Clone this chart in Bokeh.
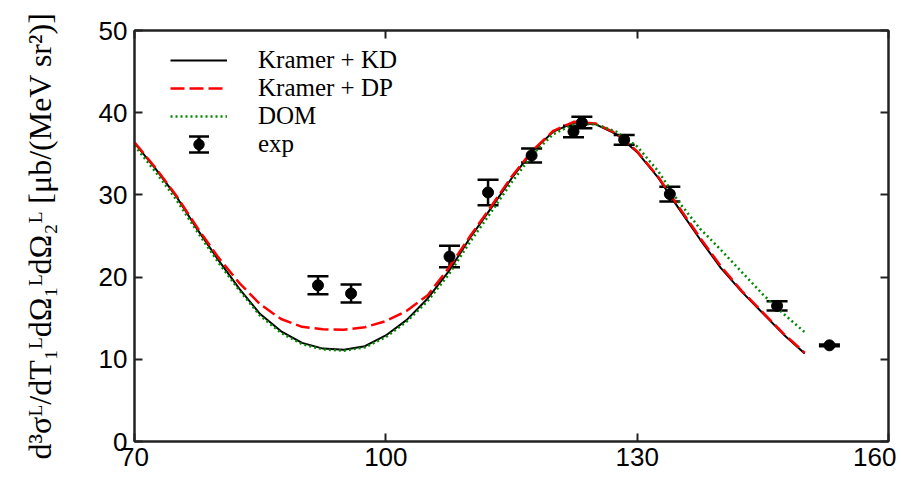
import math
from bokeh.plotting import figure
from bokeh.models import (LinearAxis, FixedTicker, Whisker, TeeHead, ColumnDataSource,
                          Legend, LegendItem, Range1d, CustomLabelingPolicy, BoxAnnotation)
from bokeh.embed import file_html
from bokeh.resources import INLINE

# ---- data ----
x_theory = [70, 72.5, 75, 77.5, 80, 82.5, 85, 87.5, 90, 92.5, 95, 97.5, 100, 102.5, 105,
            107.5, 110, 112.5, 115, 117.5, 120, 122.5, 125, 127.5, 130, 132.5, 135,
            137.5, 140, 142.5, 145, 147.5, 150]
kramer_kd = [36.3, 33.2, 29.8, 25.8, 22.1, 18.6, 15.5, 13.4, 12.0, 11.3, 11.15, 11.6, 12.9,
             14.8, 17.4, 20.7, 24.7, 28.3, 32.0, 35.3, 37.7, 38.8, 38.6, 37.4, 35.2, 32.1,
             28.3, 24.6, 21.1, 18.2, 15.6, 13.0, 10.7]
kramer_dp = [36.4, 33.3, 29.9, 26.0, 22.4, 19.3, 16.7, 14.9, 13.95, 13.65, 13.6, 13.9, 14.65,
             15.9, 17.8, 21.1, 24.9, 28.5, 32.2, 35.4, 37.8, 38.9, 38.7, 37.5, 35.3, 32.2,
             28.5, 24.8, 21.3, 18.3, 15.7, 13.1, 10.8]
dom = [36.0, 32.8, 29.4, 25.5, 21.8, 18.4, 15.3, 13.2, 11.85, 11.2, 11.05, 11.45, 12.7,
       14.6, 17.1, 20.3, 24.2, 27.8, 31.5, 34.9, 37.4, 38.6, 38.6, 37.7, 35.9, 32.9,
       29.1, 25.9, 23.3, 20.6, 17.9, 15.5, 13.3]

x_exp = [91.9, 95.85, 107.6, 112.2, 117.4, 122.4, 123.4, 128.45, 133.9, 146.7, 152.95]
y_exp = [19.0, 18.0, 22.5, 30.3, 34.8, 37.7, 38.8, 36.7, 30.1, 16.5, 11.7]
err_exp = [1.1, 1.1, 1.3, 1.55, 0.85, 0.7, 0.7, 0.6, 0.9, 0.55, 0.1]

x_ticks = [70, 100, 130, 160]
y_ticks = [0, 10, 20, 30, 40, 50]

labels = ["Kramer + KD", "Kramer + DP", "DOM", "exp"]
y_label = "d³σᴸ/dT₁ᴸdΩ₁ᴸdΩ₂ᴸ [μb/(MeV sr²)]"

FW, FH = 754, 411

# ---- figure ----
p = figure(frame_width=FW, frame_height=FH,
           x_range=Range1d(70, 160), y_range=Range1d(0, 50),
           output_backend="svg", toolbar_location=None,
           min_border_left=134, min_border_top=30, min_border_right=8, min_border_bottom=40)
p.grid.visible = False
p.outline_line_color = "#222222"
p.outline_line_width = 2
p.background_fill_color = "white"
p.border_fill_color = "white"

no_labels = CustomLabelingPolicy(code="for (const i of indices) { indices.unset(i) }\nreturn indices")

def style_axis(ax, labels_on=True):
    ax.major_tick_in = 8
    ax.major_tick_out = 0
    ax.minor_tick_line_color = None
    ax.axis_line_width = 2
    ax.axis_line_color = "#222222"
    ax.major_tick_line_width = 2
    ax.major_tick_line_color = "#222222"
    if labels_on:
        ax.major_label_text_font = "Liberation Sans"
        ax.major_label_text_font_size = "26px"
        ax.major_label_text_color = "black"
    else:
        ax.major_label_policy = no_labels
        ax.major_label_text_font_size = "1px"
        ax.major_label_standoff = 0

xa = p.xaxis[0]
xa.ticker = FixedTicker(ticks=x_ticks)
style_axis(xa)
xa.major_label_standoff = 6

ya = p.yaxis[0]
ya.ticker = FixedTicker(ticks=y_ticks)
style_axis(ya)
ya.major_label_standoff = 7
ya.axis_label = y_label
ya.axis_label_text_font = "Liberation Serif"
ya.axis_label_text_font_style = "normal"
ya.axis_label_text_font_size = "32px"
ya.axis_label_text_color = "black"
ya.axis_label_standoff = 38

top = LinearAxis(ticker=FixedTicker(ticks=x_ticks))
style_axis(top, labels_on=False)
p.add_layout(top, "above")
right = LinearAxis(ticker=FixedTicker(ticks=y_ticks))
style_axis(right, labels_on=False)
p.add_layout(right, "right")

# ---- curves ----
r_kd = p.line(x_theory, kramer_kd, line_color="black", line_width=2)
r_dp = p.line(x_theory, kramer_dp, line_color="#ff0000", line_width=2.5, line_dash="14 5")
r_dom = p.line(x_theory, dom, line_color="#008800", line_width=2.5, line_dash="2 3")

# ---- experiment ----
src = ColumnDataSource(dict(x=x_exp, y=y_exp,
                            lo=[v - e for v, e in zip(y_exp, err_exp)],
                            hi=[v + e for v, e in zip(y_exp, err_exp)]))
wh = Whisker(base="x", lower="lo", upper="hi", source=src, dimension="height",
             line_color="black", line_width=2.5,
             upper_head=TeeHead(size=21, line_width=2.5, line_color="black"),
             lower_head=TeeHead(size=21, line_width=2.5, line_color="black"))
p.add_layout(wh)
r_exp = p.scatter("x", "y", source=src, marker="circle", size=11,
                  fill_color="black", line_color="black")

# ---- legend ----
row_h = 28.3
leg_top = 15          # px below the frame top
leg_left = 36         # px right of the frame left
legend = Legend(items=[LegendItem(label=labels[0], renderers=[r_kd]),
                       LegendItem(label=labels[1], renderers=[r_dp]),
                       LegendItem(label=labels[2], renderers=[r_dom]),
                       LegendItem(label=labels[3], renderers=[r_exp])],
                location=(leg_left, FH - leg_top - 4 * row_h))
legend.glyph_width = 57
legend.glyph_height = 26
legend.label_height = 26
legend.label_standoff = 31
legend.spacing = 0
legend.padding = 0
legend.margin = 0
legend.border_line_color = None
legend.background_fill_alpha = 0
legend.label_text_font = "Liberation Serif"
legend.label_text_font_size = "25px"
legend.label_text_color = "black"
p.add_layout(legend)

# error-bar symbol of the "exp" legend entry (screen units, relative to the frame)
cx = leg_left + 57 / 2
cy = FH - leg_top - 3.5 * row_h
half = 8
for l, r, b, t in [(cx - 1.5, cx + 1.5, cy - half, cy + half),
                   (cx - 10, cx + 10, cy + half - 1.2, cy + half + 1.2),
                   (cx - 10, cx + 10, cy - half - 1.2, cy - half + 1.2)]:
    p.add_layout(BoxAnnotation(left=l, right=r, bottom=b, top=t,
                               left_units="screen", right_units="screen",
                               bottom_units="screen", top_units="screen",
                               fill_color="black", fill_alpha=1, line_color=None,
                               level="overlay"))

open("out.html", "w").write(file_html(p, INLINE))
